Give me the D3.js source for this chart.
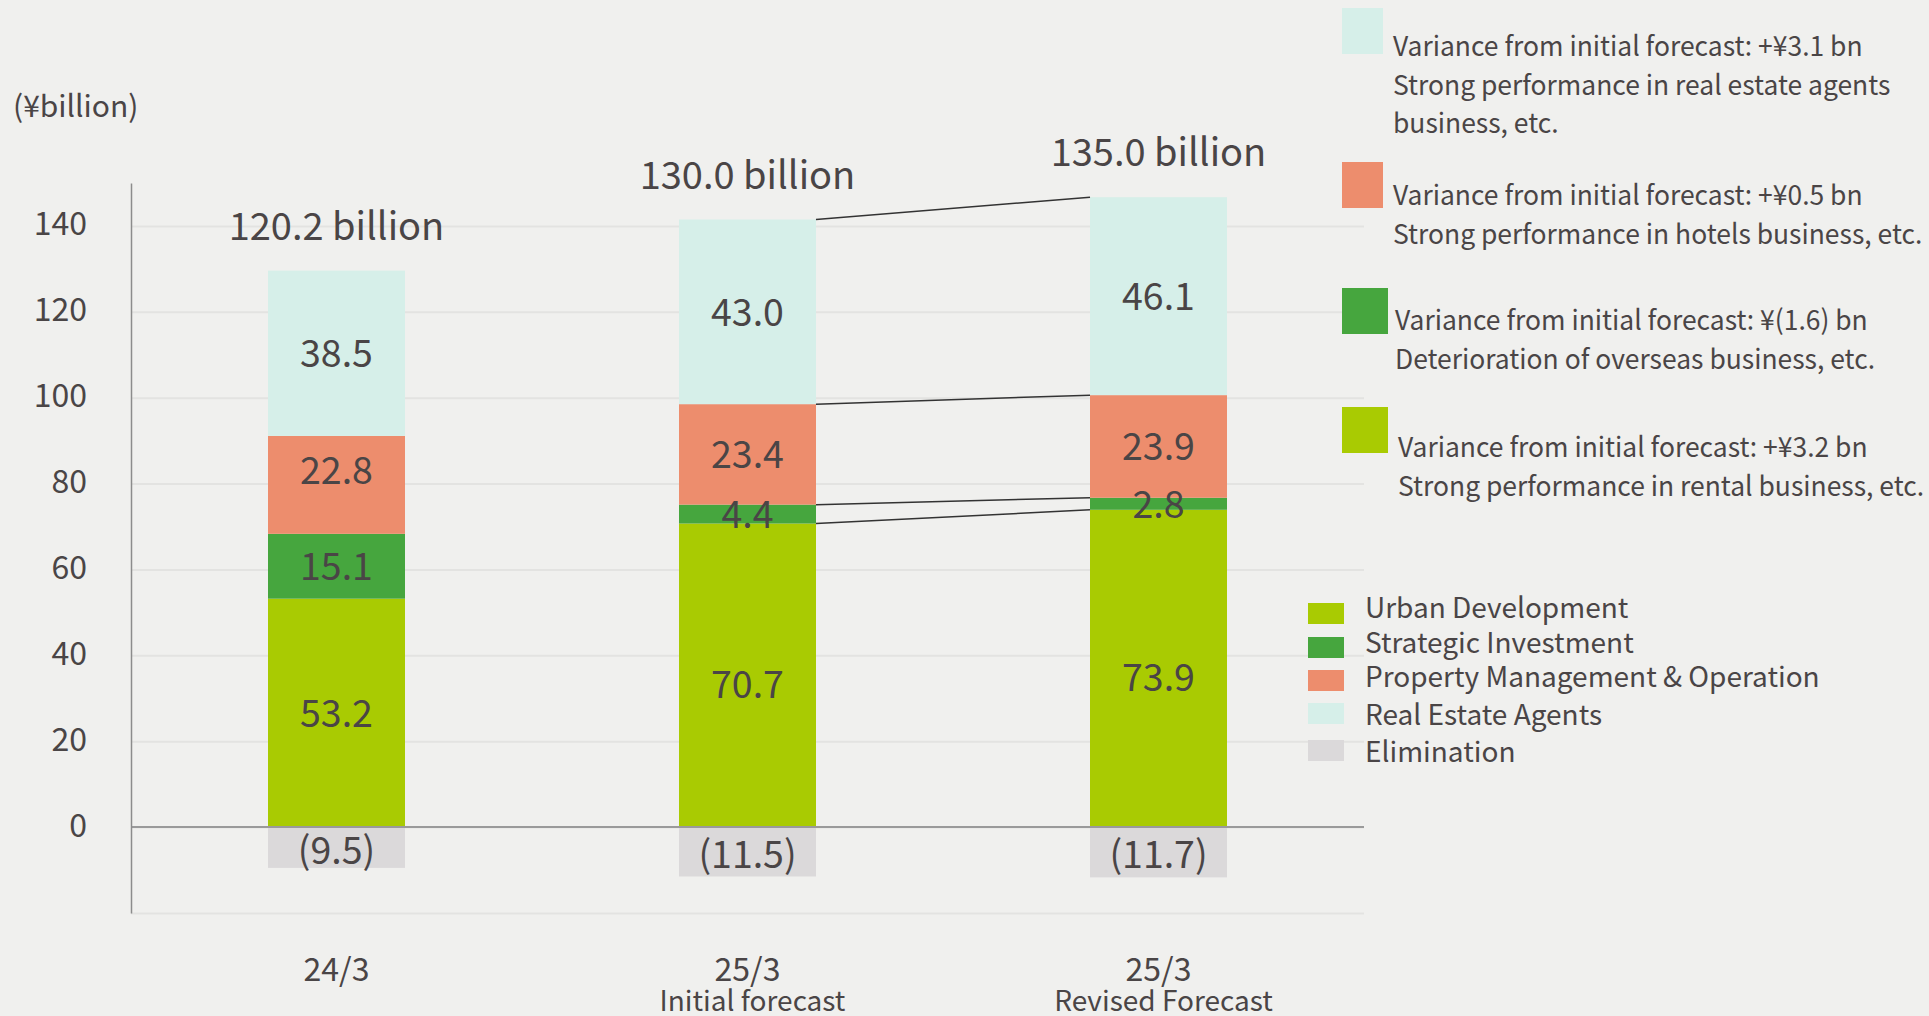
<!DOCTYPE html>
<html>
<head>
<meta charset="utf-8">
<script src="https://cdn.jsdelivr.net/npm/d3@7"></script>
<style>
  body { margin: 0; background: #f0f0ee; }
  svg text { font-family: "Noto Sans CJK JP", "Noto Sans", sans-serif; fill: #4a4546; }
</style>
</head>
<body>
<svg id="chart" width="1929" height="1016"></svg>
<script>

// values in ¥ billion
var PERIODS = ["24/3", "25/3", "25/3"];
var PERIOD_NOTES = ["", "Initial forecast", "Revised Forecast"];
var URBAN = [53.2, 70.7, 73.9];
var STRATEGIC = [15.1, 4.4, 2.8];
var PROPERTY = [22.8, 23.4, 23.9];
var AGENTS = [38.5, 43.0, 46.1];
var ELIMINATION = [-9.5, -11.5, -11.7];
var TOTALS = [120.2, 130.0, 135.0];
var Y_TICKS = [0, 20, 40, 60, 80, 100, 120, 140];
var SEGMENTS = ["Urban Development", "Strategic Investment", "Property Management & Operation", "Real Estate Agents", "Elimination"];
var VARIANCE_NOTES = [
  ["Variance from initial forecast: +¥3.1 bn", "Strong performance in real estate agents", "business, etc."],
  ["Variance from initial forecast: +¥0.5 bn", "Strong performance in hotels business, etc."],
  ["Variance from initial forecast: ¥(1.6) bn", "Deterioration of overseas business, etc."],
  ["Variance from initial forecast: +¥3.2 bn", "Strong performance in rental business, etc."]
];

var COLORS = ["#a9cb02", "#46a63e", "#ed8d6d", "#d6efe9", "#dbd9da"];
var NOTE_COLORS = [COLORS[3], COLORS[2], COLORS[1], COLORS[0]];

var svg = d3.select("#chart");
svg.append("rect").attr("width", 1929).attr("height", 1016).attr("fill", "#f0f0ee");

var left = 131, right = 1364;

var x = d3.scaleBand()
    .domain(d3.range(PERIODS.length))
    .range([left, right])
    .paddingInner(2 / 3)
    .paddingOuter(1 / 3);

var y = d3.scaleLinear()
    .domain([-20, 150])
    .range([913, 183]);

// grid
svg.append("g")
    .attr("class", "grid")
    .attr("transform", "translate(" + left + ",0)")
    .call(d3.axisLeft(y).tickValues([-20].concat(Y_TICKS)).tickSize(-(right - left)).tickFormat(""))
    .call(function(g){
      g.select(".domain").remove();
      g.selectAll("line").attr("stroke", "#e3e3e1").attr("stroke-width", 2);
    });

// stacked rows
var stacks = [URBAN, STRATEGIC, PROPERTY, AGENTS];
var rows = [];
PERIODS.forEach(function(p, i){
  var base = 0;
  stacks.forEach(function(vals, k){
    rows.push({ i: i, k: k, y0: base, y1: base + vals[i], v: vals[i] });
    base += vals[i];
  });
  rows.push({ i: i, k: 4, y0: ELIMINATION[i], y1: 0, v: ELIMINATION[i] });
});

svg.append("g").selectAll("rect")
    .data(rows)
    .enter().append("rect")
    .attr("x", function(d){ return x(d.i); })
    .attr("width", x.bandwidth())
    .attr("y", function(d){ return y(d.y1); })
    .attr("height", function(d){ return y(d.y0) - y(d.y1); })
    .attr("fill", function(d){ return COLORS[d.k]; });

// zero line
svg.append("line")
    .attr("x1", left).attr("x2", right)
    .attr("y1", y(0)).attr("y2", y(0))
    .attr("stroke", "#9a9a9a").attr("stroke-width", 2);

// y axis
svg.append("g")
    .attr("transform", "translate(" + left + ",0)")
    .call(d3.axisLeft(y).tickValues(Y_TICKS).tickSize(0).tickSizeOuter(0).tickPadding(44))
    .call(function(g){
      g.select(".domain").attr("stroke", "#8c8c8c").attr("stroke-width", 1.5);
      g.selectAll("text")
        .attr("dy", null)
        .attr("y", 9)
        .style("font-size", "32px")
        .style("fill", "#4a4546");
    });

svg.append("text")
    .attr("x", 13).attr("y", 117)
    .style("font-size", "30px")
    .text("(¥billion)");

// value labels (the slide nudges a few of them off centre)
var nudge = function(d){
  if (d.k === 2 && d.i === 0) return -15;
  if (d.k === 0 && d.i > 0) return 9;
  if (d.k === 4) return 2;
  return 0;
};
svg.append("g").selectAll("text")
    .data(rows)
    .enter().append("text")
    .attr("x", function(d){ return x(d.i) + x.bandwidth() / 2; })
    .attr("y", function(d){ return y((d.y0 + d.y1) / 2) + 14 + nudge(d); })
    .attr("text-anchor", "middle")
    .style("font-size", "37.5px")
    .text(function(d){
      return d.v < 0 ? "(" + d3.format(".1f")(-d.v) + ")" : d3.format(".1f")(d.v);
    });

// totals above bars
svg.append("g").selectAll("text")
    .data(TOTALS)
    .enter().append("text")
    .attr("x", function(d, i){ return x(i) + x.bandwidth() / 2; })
    .attr("y", function(d, i){
      var top = URBAN[i] + STRATEGIC[i] + PROPERTY[i] + AGENTS[i];
      return y(top) - 31;
    })
    .attr("text-anchor", "middle")
    .style("font-size", "38px")
    .text(function(d){ return d3.format(".1f")(d) + " billion"; });

// connectors between initial and revised forecast
var b0 = x(1) + x.bandwidth(), b1 = x(2);
var levels = stacks.map(function(vals, k){
  var s = [0, 0];
  for (var j = 0; j <= k; j++){ s[0] += stacks[j][1]; s[1] += stacks[j][2]; }
  return s;
});
svg.append("g").selectAll("line")
    .data(levels)
    .enter().append("line")
    .attr("x1", b0).attr("x2", b1)
    .attr("y1", function(d){ return y(d[0]); })
    .attr("y2", function(d){ return y(d[1]); })
    .attr("stroke", "#333").attr("stroke-width", 1.5);

// x labels
svg.append("g").selectAll("text")
    .data(PERIODS)
    .enter().append("text")
    .attr("x", function(d, i){ return x(i) + x.bandwidth() / 2; })
    .attr("y", 981)
    .attr("text-anchor", "middle")
    .style("font-size", "32px")
    .text(function(d){ return d; });

svg.append("g").selectAll("text")
    .data(PERIOD_NOTES)
    .enter().append("text")
    .attr("x", function(d, i){ return x(i) + x.bandwidth() / 2 + 5; })
    .attr("y", 1011)
    .attr("text-anchor", "middle")
    .style("font-size", "28px")
    .text(function(d){ return d; });

// variance notes (top right), set slightly condensed like the slide
var noteTop = [8, 162, 288, 407];
var noteBase = [56, 205, 330, 457];
var noteX = [1393, 1393, 1395, 1398];
var noteSwW = [41, 41, 46, 46];
var notes = svg.append("g").selectAll("g")
    .data(VARIANCE_NOTES)
    .enter().append("g");
notes.append("rect")
    .attr("x", 1342)
    .attr("y", function(d, i){ return noteTop[i]; })
    .attr("width", function(d, i){ return noteSwW[i]; })
    .attr("height", 46)
    .attr("fill", function(d, i){ return NOTE_COLORS[i]; });
notes.each(function(lines, i){
  d3.select(this).selectAll("text")
    .data(lines)
    .enter().append("text")
    .attr("transform", function(d, j){
      return "translate(" + noteX[i] + "," + (noteBase[i] + j * 38.5) + ") scale(0.962,1)";
    })
    .style("font-size", "27.5px")
    .text(function(d){ return d; });
});

// segment legend
var legTop = [603, 637, 670, 703, 740];
var legBase = [618, 653, 687, 725, 762];
var legend = svg.append("g").selectAll("g")
    .data(SEGMENTS)
    .enter().append("g");
legend.append("rect")
    .attr("x", 1308)
    .attr("y", function(d, i){ return legTop[i]; })
    .attr("width", 36).attr("height", 21)
    .attr("fill", function(d, i){ return COLORS[i]; });
legend.append("text")
    .attr("x", 1365)
    .attr("y", function(d, i){ return legBase[i]; })
    .style("font-size", "28px")
    .text(function(d){ return d; });

</script>
</body>
</html>
